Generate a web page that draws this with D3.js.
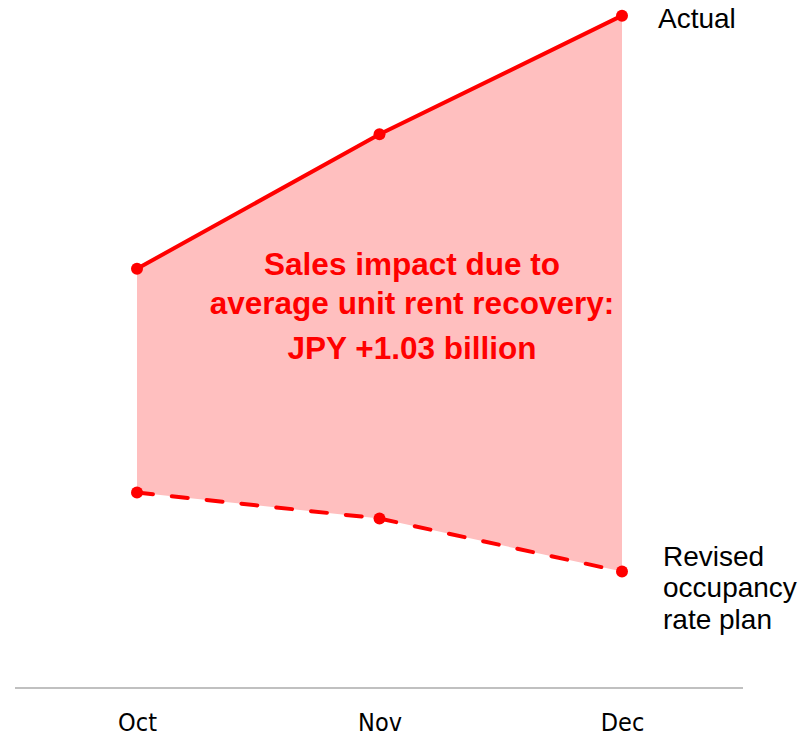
<!DOCTYPE html>
<html>
<head>
<meta charset="utf-8">
<script src="https://cdn.jsdelivr.net/npm/d3@7"></script>
<style>
  html, body { margin: 0; padding: 0; background: #fff; }
  svg { display: block; }
</style>
</head>
<body>
<svg id="chart" width="812" height="736"></svg>
<script>
// Monthly sales (JPY 100 million, relative level)
const months = ["Oct", "Nov", "Dec"];
const actual = [3.71, 4.90, 5.95];
const revisedPlan = [1.73, 1.50, 1.03];
const seriesLabels = ["Actual", "Revised\noccupancy\nrate plan"];
const impactText = ["Sales impact due to", "average unit rent recovery:", "JPY +1.03 billion"];

const svg = d3.select("#chart");
const red = "#ff0000";

const x = d3.scalePoint().domain(months).range([137, 622]);
const y = d3.scaleLinear().domain([0, 6]).range([688, 10]);

const rows = months.map((m, i) => ({ m, a: actual[i], r: revisedPlan[i] }));

// Shaded gap between the two series
svg.append("path")
  .datum(rows)
  .attr("fill", "#ffbfbf")
  .attr("d", d3.area().x(d => x(d.m)).y0(d => y(d.r)).y1(d => y(d.a)));

// Baseline axis
const xAxis = svg.append("g").attr("transform", `translate(0,${y(0)})`)
  .call(d3.axisBottom(x).tickSize(0));
xAxis.select(".domain").remove();
xAxis.append("line").attr("x1", 15).attr("x2", 743)
  .attr("stroke", "#c0c0c0").attr("stroke-width", 2);
xAxis.selectAll(".tick text")
  .attr("y", 43).attr("dy", 0)
  .attr("font-family", "'DejaVu Sans Condensed', 'DejaVu Sans', sans-serif")
  .attr("font-stretch", "condensed")
  .attr("font-weight", "normal")
  .attr("font-size", 25)
  .attr("fill", "#000");

// Actual line
svg.append("path").datum(rows)
  .attr("fill", "none").attr("stroke", red).attr("stroke-width", 4)
  .attr("d", d3.line().x(d => x(d.m)).y(d => y(d.a)));

// Revised plan line (dashed)
svg.append("path").datum(rows)
  .attr("fill", "none").attr("stroke", red).attr("stroke-width", 4)
  .attr("stroke-dasharray", "16,19").attr("stroke-linecap", "round")
  .attr("d", d3.line().x(d => x(d.m)).y(d => y(d.r)));

// Markers
["a", "r"].forEach(k => {
  svg.append("g").selectAll("circle").data(rows).join("circle")
    .attr("cx", d => x(d.m)).attr("cy", d => y(d[k])).attr("r", 6)
    .attr("fill", red);
});

// Series labels
const labelFont = "'Liberation Sans', Arial, sans-serif";
svg.append("text")
  .attr("x", x("Dec") + 36).attr("y", y(actual[2]) + 12)
  .attr("font-family", labelFont).attr("font-size", 28).attr("fill", "#000")
  .text(seriesLabels[0]);

const rev = svg.append("text")
  .attr("x", x("Dec") + 41).attr("y", y(revisedPlan[2]) - 6)
  .attr("font-family", labelFont).attr("font-size", 28).attr("fill", "#000");
seriesLabels[1].split("\n").forEach((t, i) => {
  rev.append("tspan").attr("x", x("Dec") + 41).attr("dy", i === 0 ? 0 : 31.5).text(t);
});

// Impact annotation
const note = svg.append("text")
  .attr("text-anchor", "middle")
  .attr("font-family", labelFont).attr("font-weight", "bold")
  .attr("font-size", 31.5).attr("fill", red);
[275, 314, 359].forEach((yy, i) => {
  note.append("tspan").attr("x", 412).attr("y", yy).text(impactText[i]);
});
</script>
</body>
</html>
